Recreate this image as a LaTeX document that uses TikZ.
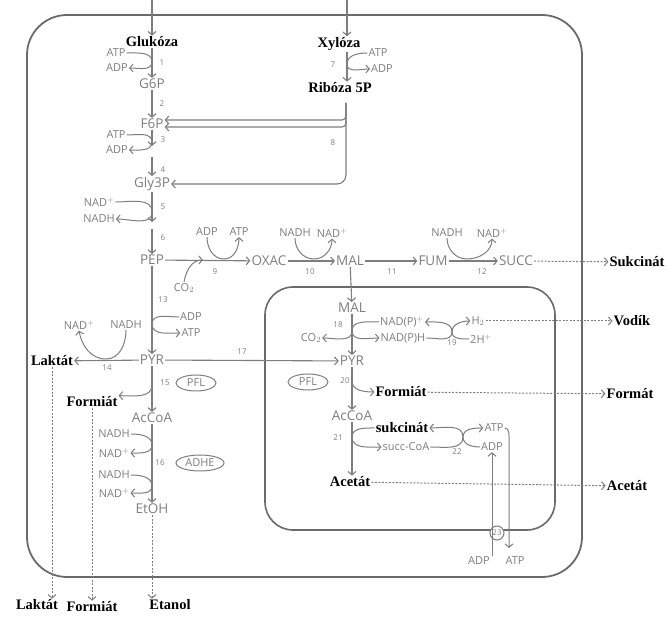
\documentclass[tikz,border=0pt]{standalone}
\usepackage{fontspec}
\setmainfont{Liberation Serif}
\setsansfont{Open Sans}
\usepackage{tikz}
\usetikzlibrary{arrows.meta,shapes.geometric}
\definecolor{pathgray}{HTML}{7E7E7E}
\definecolor{boxgray}{HTML}{6A6A6A}

\begin{document}
\begin{tikzpicture}[x=1pt, y=1pt, >={Straight Barb[length=3.5pt,width=8pt]},
  every node/.style={inner sep=1pt},
  met/.style={text=pathgray, font=\fontsize{13.5}{14}\selectfont\sffamily},
  cof/.style={text=pathgray, font=\fontsize{11}{12}\selectfont\sffamily},
  num/.style={text=pathgray, font=\fontsize{8}{9}\selectfont\sffamily},
  prod/.style={text=black, font=\fontsize{14.5}{15}\selectfont\bfseries},
  enz/.style={draw=pathgray, ellipse, text=pathgray, font=\fontsize{11}{12}\selectfont\sffamily, minimum width=40pt, minimum height=16pt, inner sep=0pt, line width=1pt},
  flow/.style={->, draw=pathgray, line width=1.1pt},
  side/.style={->, draw=pathgray, line width=1pt},
  export/.style={->, draw=pathgray, line width=1pt, dash pattern=on 2pt off 1.5pt}]

\useasboundingbox (0,0) rectangle (667,-617);
% compartments
\draw[boxgray, line width=1.8pt, rounded corners=40pt] (27,-15) rectangle (582,-577);
\draw[boxgray, line width=1.6pt, rounded corners=28pt] (265,-287) rectangle (555,-530);

% glycolysis
\coordinate (inglc) at (152,0);
\node[prod] (glc) at (152,-42) {Glukóza};
\node[met] (g6p) at (152,-84) {G6P};
\node[met] (f6p) at (152,-124) {F6P};
\node[met] (gly3p) at (152,-184) {Gly3P};
\node[met] (pep) at (152,-260) {PEP};
\node[met] (pyr) at (152,-360) {PYR};
\node[met] (accoa) at (152,-418) {AcCoA};
\node[met] (etoh) at (152,-509) {EtOH};
\coordinate (m3a) at (152,-146);
\coordinate (m3b) at (152,-157);
\coordinate (m5a) at (152,-222);
\coordinate (m5b) at (152,-229);

\node[cof] (atp1) at (116,-53) {ATP};
\node[cof] (adp1) at (117,-68) {ADP};
\node[cof] (atp3) at (116,-135) {ATP};
\node[cof] (adp3) at (117,-150) {ADP};
\node[cof] (nad5) at (99,-202) {NAD$^+$};
\node[cof] (nadh5) at (99,-219) {NADH};

% pentose
\coordinate (inxyl) at (347,0);
\node[prod] (xyl) at (339,-44) {Xylóza};
\node[prod] (r5p) at (340,-88) {Ribóza 5P};
\node[cof] (atp7) at (378,-53) {ATP};
\node[cof] (adp7) at (382,-69) {ADP};
\coordinate (r8) at (346,-103);

% PEP branch
\node[met] (oxac) at (269,-261) {OXAC};
\node[met] (mal) at (350,-261) {MAL};
\node[met] (fum) at (433,-261) {FUM};
\node[met] (succ) at (516,-261) {SUCC};
\node[cof] (adp9) at (207,-232) {ADP};
\node[cof] (atp9) at (239,-232) {ATP};
\node[cof] (co2) at (184,-288) {CO$_2$};
\node[cof] (nadh10) at (295,-233) {NADH};
\node[cof] (nad10) at (332,-233) {NAD$^+$};
\node[cof] (nadh12) at (447,-233) {NADH};
\node[cof] (nad12) at (492,-233) {NAD$^+$};

\node[cof] (adp13) at (191,-317) {ADP};
\node[cof] (atp13) at (191,-333) {ATP};
\node[cof] (nad14) at (79,-325) {NAD$^+$};
\node[cof] (nadh14) at (126,-325) {NADH};
\node[prod] (lac) at (52,-361) {Laktát};
\node[prod] (form) at (92,-402) {Formiát};
\node[enz] (pfl) at (196,-383) {PFL};
\node[cof] (nadh16a) at (114,-434) {NADH};
\node[cof] (nad16a) at (114,-453) {NAD$^+$};
\node[cof] (nadh16b) at (114,-475) {NADH};
\node[cof] (nad16b) at (114,-493) {NAD$^+$};
\node[enz, minimum width=48pt] (adhe) at (200,-463) {ADHE};

% inner compartment
\node[met] (mal2) at (352,-308) {MAL};
\node[met] (pyr2) at (352,-361) {PYR};
\node[met] (accoa2) at (352,-416) {AcCoA};
\node[prod] (acet2) at (350,-482) {Acetát};
\node[prod] (form2) at (401,-392) {Formiát};
\node[prod] (sukc2) at (402,-428) {sukcinát};
\node[cof] (succcoa) at (406,-447) {succ-CoA};
\node[cof] (atp22) at (494,-428) {ATP};
\node[cof] (adp22) at (492,-447) {ADP};
\node[cof] (co2b) at (311,-338) {CO$_2$};
\node[cof] (nadp) at (402,-322) {NAD(P)$^+$};
\node[cof] (nadph) at (403,-338) {NAD(P)H};
\node[cof] (h2) at (478,-321) {H$_2$};
\node[cof] (hp) at (481,-339) {2H$^+$};
\node[enz] (pfl2) at (308,-382) {PFL};
\node[cof] (adp23) at (479,-561) {ADP};
\node[cof] (atp23) at (515,-561) {ATP};
\node[circle, draw=pathgray, fill=white, num, minimum size=14pt, inner sep=0pt, line width=1pt] (synth) at (497,-533) {23};

% products outside
\node[prod] (sukc) at (637,-262) {Sukcinát};
\node[prod] (vodik) at (632,-321) {Vodík};
\node[prod] (format) at (630,-394) {Formát};
\node[prod] (acet) at (627,-486) {Acetát};
\node[prod] (lacb) at (37,-605) {Laktát};
\node[prod] (formb) at (92,-607) {Formiát};
\node[prod] (etanol) at (170,-605) {Etanol};

% step numbers
\node[num] at (162,-63) {1};
\node[num] at (162,-104) {2};
\node[num] at (163,-140) {3};
\node[num] at (163,-170) {4};
\node[num] at (163,-207) {5};
\node[num] at (163,-238) {6};
\node[num] at (333,-65) {7};
\node[num] at (333,-143) {8};
\node[num] at (215,-272) {9};
\node[num] at (310,-272) {10};
\node[num] at (392,-272) {11};
\node[num] at (482,-272) {12};
\node[num] at (163,-300) {13};
\node[num] at (107,-368) {14};
\node[num] at (165,-383) {15};
\node[num] at (160,-463) {16};
\node[num] at (242,-352) {17};
\node[num] at (338,-325) {18};
\node[num] at (452,-343) {19};
\node[num] at (345,-381) {20};
\node[num] at (338,-438) {21};
\node[num] at (457,-452) {22};

% main flow
\draw[flow] (inglc) -- (glc);
\draw[flow] (glc) -- (g6p);
\draw[flow] (g6p) -- (f6p);
\draw[flow] (f6p) -- (m3a);
\draw[flow] (m3b) -- (gly3p);
\draw[flow] (gly3p) -- (m5a);
\draw[flow] (m5b) -- (pep);
\draw[flow] (pep) -- (pyr);
\draw[flow] (pyr) -- (accoa);
\draw[flow] (accoa) -- (etoh);
\draw[flow] (inxyl) -- (inxyl |- xyl.north);
\draw[flow] (xyl.south -| inxyl) -- (r5p.north -| inxyl);
\draw[flow, rounded corners=9pt] (r8) |- (gly3p.east);
\draw[flow, rounded corners=4pt] (r8) |- ([yshift=4pt]f6p.east);
\draw[flow, rounded corners=4pt] (r8) |- ([yshift=-3pt]f6p.east);
\draw[flow] (pep) -- (oxac);
\draw[flow] (oxac) -- (mal);
\draw[flow] (mal) -- (fum);
\draw[flow] (fum) -- (succ);
\draw[flow] (mal) -- (mal2);
\draw[flow] (pyr) -- (pyr2);
\draw[flow] (pyr) -- (lac);
\draw[flow] (mal2) -- (pyr2);
\draw[flow] (pyr2) -- (accoa2);
\draw[flow] (accoa2) -- (acet2.north -| accoa2);

% cofactors
\draw[side] (atp1.east) to[out=0,in=90] (152,-62) to[out=-90,in=0] (adp1.east);
\draw[side] (atp3.east) to[out=0,in=90] (152,-142) to[out=-90,in=0] (adp3.east);
\draw[side] (nad5.east) to[out=0,in=90] (152,-212) to[out=-90,in=0] (nadh5.east);
\draw[side] (atp7.west) to[out=180,in=90] (347,-64) to[out=-90,in=180] (adp7.west);
\draw[side] (adp9.south) to[out=-90,in=180] (224,-259) to[out=0,in=-90] (atp9.south);
\draw[side] (co2.north) to[out=80,in=180] (203,-260);
\draw[side] (nadh10.south) to[out=-90,in=180] (314,-259) to[out=0,in=-90] (nad10.south);
\draw[side] (nadh12.south) to[out=-90,in=180] (467,-259) to[out=0,in=-90] (nad12.south);
\draw[side] (adp13.west) to[out=180,in=90] (152,-324) to[out=-90,in=180] (atp13.west);
\draw[side] (nadh14.south) to[out=-90,in=0] (106,-359) to[out=180,in=-80] (nad14.south);
\draw[side] (152,-385) to[out=-90,in=0] (form.north east);
\draw[side] (nadh16a.east) to[out=0,in=90] (152,-445) to[out=-90,in=0] (nad16a.east);
\draw[side] (nadh16b.east) to[out=0,in=90] (152,-486) to[out=-90,in=0] (nad16b.east);
\draw[side] (nadp.west) to[out=180,in=90] (352,-331) to[out=-90,in=180] (nadph.west);
\draw[side] (352,-331) to[out=-90,in=0] (co2b.east);
\draw[side] (nadph.east) to[out=0,in=-90] (452,-332) to[out=90,in=0] (nadp.east);
\draw[side] (hp.west) to[out=180,in=-90] (452,-332) to[out=90,in=180] (h2.west);
\draw[side] (352,-381) to[out=-90,in=180] (form2.west);
\draw[side] (sukc2.west) to[out=180,in=90] (352,-437) to[out=-90,in=180] (succcoa.west);
\draw[side] (succcoa.east) to[out=0,in=-90] (463,-437) to[out=90,in=0] (sukc2.east);
\draw[side] (adp22.west) to[out=180,in=-90] (463,-437) to[out=90,in=180] (atp22.west);
\draw[side] (adp23.north -| adp22.south) -- (adp22.south);
\draw[side] (atp22.east) to[out=0,in=90] (509,-440) -- (509,-548);

% export
\draw[export] (succ) -- (sukc);
\draw[export] (h2) -- (vodik);
\draw[export] (form2) -- (format);
\draw[export] (acet2) -- (acet);
\draw[export] (lac.south) -- (lac.south |- lacb.north);
\draw[export] (form.south) -- (form.south |- formb.north);
\draw[export] (etoh.south) -- (etoh.south |- etanol.north);
\end{tikzpicture}
\end{document}
